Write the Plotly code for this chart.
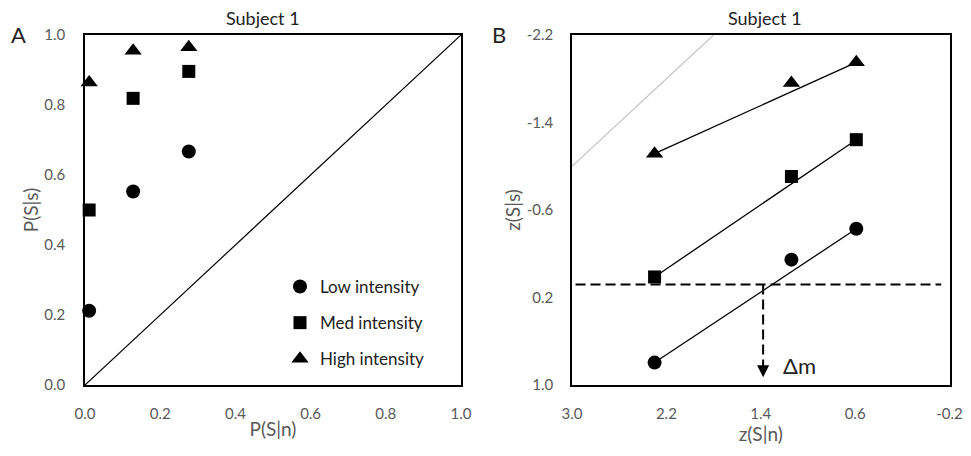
import plotly.graph_objects as go

# ---------------- data ----------------
# Panel A: ROC points  P(S|s) vs P(S|n)
p_fa = [0.011, 0.128, 0.276]
hit_low = [0.212, 0.553, 0.667]
hit_med = [0.500, 0.819, 0.896]
hit_high = [0.864, 0.955, 0.965]

# Panel B: z-transformed ROC points  z(S|s) vs z(S|n)
z_fa = [2.30, 1.14, 0.59]
z_low = [0.795, -0.146, -0.429]
z_med = [0.012, -0.906, -1.243]
z_high = [-1.115, -1.762, -1.950]

series_names = ["Low intensity", "Med intensity", "High intensity"]
series_symbols = ["circle", "square", "triangle-up"]
series_sizes = [14, 13, 15]

# reference lines
chance_a = [0.0, 1.0]
ref_b_x = [3.0, 1.8]
ref_b_y = [-1.0, -2.2]
criterion_y = 0.08
criterion_x = [2.97, -0.13]
delta_m_x = 1.38
delta_m_y_end = 0.93

# ticks
a_ticks = [0.0, 0.2, 0.4, 0.6, 0.8, 1.0]
a_ticktext = ["0.0", "0.2", "0.4", "0.6", "0.8", "1.0"]
b_x_ticks = [3.0, 2.2, 1.4, 0.6, -0.2]
b_x_ticktext = ["3.0", "2.2", "1.4", "0.6", "-0.2"]
b_y_ticks = [-2.2, -1.4, -0.6, 0.2, 1.0]
b_y_ticktext = ["-2.2", "-1.4", "-0.6", "0.2", "1.0"]

FONT = "Lato, 'Open Sans', sans-serif"
TICK_C = "#595959"

fig = go.Figure()

# Panel A diagonal
fig.add_trace(go.Scatter(x=chance_a, y=chance_a, mode="lines",
                         line=dict(color="black", width=1.2),
                         showlegend=False, hoverinfo="skip",
                         xaxis="x", yaxis="y"))

hits = [hit_low, hit_med, hit_high]
zs = [z_low, z_med, z_high]
for i, (name, sym, sz) in enumerate(zip(series_names, series_symbols, series_sizes)):
    fig.add_trace(go.Scatter(x=p_fa, y=hits[i], mode="markers", name=name,
                             legendgroup=name,
                             marker=dict(symbol=sym, size=sz, color="black"),
                             cliponaxis=False, xaxis="x", yaxis="y"))

# Panel B grey reference line
fig.add_trace(go.Scatter(x=ref_b_x, y=ref_b_y, mode="lines",
                         line=dict(color="#c4c4c4", width=1.2),
                         showlegend=False, hoverinfo="skip",
                         xaxis="x2", yaxis="y2"))

for i, (name, sym, sz) in enumerate(zip(series_names, series_symbols, series_sizes)):
    fig.add_trace(go.Scatter(x=[z_fa[0], z_fa[-1]], y=[zs[i][0], zs[i][-1]],
                             mode="lines", line=dict(color="black", width=1.3),
                             showlegend=False, hoverinfo="skip",
                             xaxis="x2", yaxis="y2"))
    fig.add_trace(go.Scatter(x=z_fa, y=zs[i], mode="markers", name=name,
                             legendgroup=name, showlegend=False,
                             marker=dict(symbol=sym, size=sz, color="black"),
                             cliponaxis=False, xaxis="x2", yaxis="y2"))

# criterion dashed lines
fig.add_trace(go.Scatter(x=criterion_x, y=[criterion_y, criterion_y], mode="lines",
                         line=dict(color="black", width=2, dash="10px,5px"),
                         showlegend=False, hoverinfo="skip",
                         xaxis="x2", yaxis="y2"))
fig.add_trace(go.Scatter(x=[delta_m_x, delta_m_x], y=[criterion_y, delta_m_y_end - 0.05],
                         mode="lines",
                         line=dict(color="black", width=2, dash="10px,5px"),
                         showlegend=False, hoverinfo="skip",
                         xaxis="x2", yaxis="y2"))

axis_common = dict(showline=True, mirror=True, linecolor="black", linewidth=1.5,
                   showgrid=False, zeroline=False, ticks="", layer="below traces",
                   automargin=False,
                   tickfont=dict(family=FONT, size=15, color=TICK_C),
                   tickmode="array")

title_font = dict(family=FONT, size=19, color=TICK_C)
ydom = [71 / 456, 421 / 456]
fig.update_layout(
    width=971, height=456, autosize=False,
    margin=dict(l=0, r=0, t=0, b=0, autoexpand=False),
    paper_bgcolor="white", plot_bgcolor="white",
    font=dict(family=FONT, color="#222222"),
    xaxis=dict(domain=[85 / 971, 461 / 971], range=[0, 1], anchor="y",
               tickvals=a_ticks, ticktext=a_ticktext, ticklabelstandoff=14,
               title=dict(text="P(S|n)", standoff=2, font=title_font),
               **axis_common),
    yaxis=dict(domain=ydom, range=[0, 1], anchor="x",
               tickvals=a_ticks, ticktext=a_ticktext, ticklabelstandoff=15,
               title=dict(text="P(S|s)", standoff=1, font=title_font),
               **axis_common),
    xaxis2=dict(domain=[572 / 971, 949.5 / 971], range=[3.0, -0.2], anchor="y2",
                tickvals=b_x_ticks, ticktext=b_x_ticktext, ticklabelstandoff=14,
                title=dict(text="z(S|n)", standoff=2, font=title_font),
                **axis_common),
    yaxis2=dict(domain=ydom, range=[1.0, -2.2], anchor="x2",
                tickvals=b_y_ticks, ticktext=b_y_ticktext, ticklabelstandoff=14,
                title=dict(text="z(S|s)", standoff=1, font=title_font),
                **axis_common),
    legend=dict(x=280 / 971, y=1 - 269 / 456, xanchor="left", yanchor="top",
                bgcolor="rgba(0,0,0,0)", traceorder="grouped", tracegroupgap=11,
                font=dict(family=FONT, size=17, color="#222222"),
                itemwidth=30),
    showlegend=True,
)

annotations = [
    dict(text="Subject 1", x=263 / 971, y=1 - 18 / 456, xref="paper", yref="paper",
         showarrow=False, font=dict(family=FONT, size=18, color="#222222"),
         xanchor="center", yanchor="middle"),
    dict(text="Subject 1", x=765 / 971, y=1 - 18 / 456, xref="paper", yref="paper",
         showarrow=False, font=dict(family=FONT, size=18, color="#222222"),
         xanchor="center", yanchor="middle"),
    dict(text="A", x=18.5 / 971, y=1 - 35 / 456, xref="paper", yref="paper",
         showarrow=False, font=dict(family=FONT, size=22, color="#222222"),
         xanchor="center", yanchor="middle"),
    dict(text="B", x=499 / 971, y=1 - 35 / 456, xref="paper", yref="paper",
         showarrow=False, font=dict(family=FONT, size=22, color="#222222"),
         xanchor="center", yanchor="middle"),
    dict(text="Δm", x=1.075, y=0.826, xref="x2", yref="y2",
         showarrow=False, font=dict(family=FONT, size=22, color="#222222"),
         xanchor="center", yanchor="middle"),
    dict(text="", x=delta_m_x, y=delta_m_y_end, xref="x2", yref="y2",
         showarrow=True, ax=0, ay=-10, arrowhead=2, arrowsize=1.2, arrowwidth=2,
         arrowcolor="black", standoff=0),
]
fig.update_layout(annotations=annotations)

fig.write_html("out.html",
               config={"displayModeBar": False},
               post_script="document.body.style.margin='0';"
                           "document.body.style.overflow='hidden';")
